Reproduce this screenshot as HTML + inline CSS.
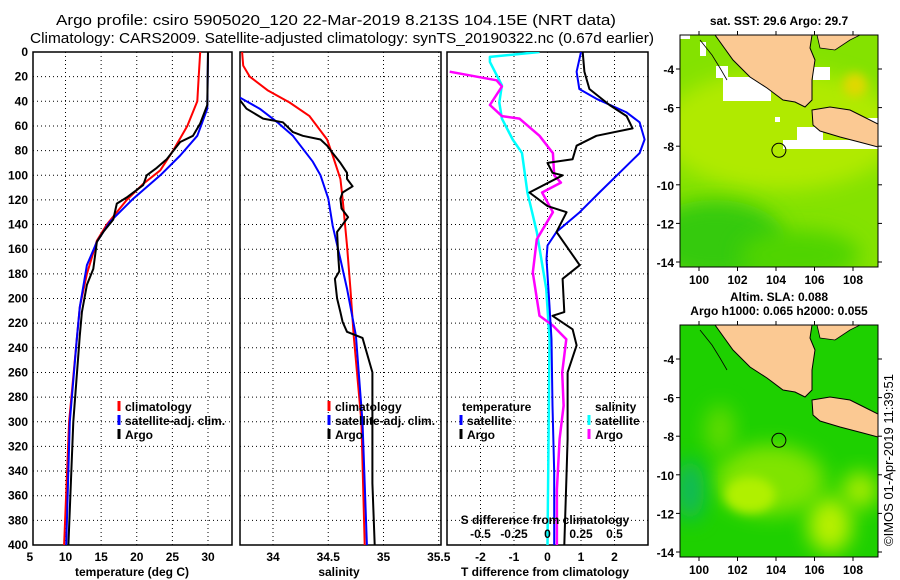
<!DOCTYPE html>
<html><head><meta charset="utf-8"><style>
html,body{margin:0;padding:0;background:#fff}
svg{display:block;font-family:"Liberation Sans",sans-serif}
.t{font-size:12px;font-weight:bold;fill:#000}
</style></head><body>
<svg id="fig" width="900" height="580" viewBox="0 0 900 580" xmlns="http://www.w3.org/2000/svg">
<defs>
<clipPath id="c1"><rect x="33" y="52" width="199" height="493"/></clipPath>
<clipPath id="c2"><rect x="240" y="52" width="201" height="493"/></clipPath>
<clipPath id="c3"><rect x="447" y="52" width="201" height="493"/></clipPath>
<clipPath id="m1"><rect x="680" y="35" width="198" height="232"/></clipPath>
<clipPath id="m2"><rect x="680" y="325" width="198" height="232"/></clipPath>
<filter id="bl" x="-50%" y="-50%" width="200%" height="200%"><feGaussianBlur stdDeviation="10"/></filter>
<filter id="bl2" x="-50%" y="-50%" width="200%" height="200%"><feGaussianBlur stdDeviation="5"/></filter>
</defs>
<text x="336" y="25" text-anchor="middle" font-size="15" textLength="560" lengthAdjust="spacingAndGlyphs">Argo profile: csiro 5905020_120 22-Mar-2019 8.213S 104.15E (NRT data)</text>
<text x="342" y="43" text-anchor="middle" font-size="15" textLength="624" lengthAdjust="spacingAndGlyphs">Climatology: CARS2009. Satellite-adjusted climatology: synTS_20190322.nc (0.67d earlier)</text>
<g id="plots"></g>
<g id="maps"></g>
<text transform="translate(893,460) rotate(-90)" text-anchor="middle" font-size="13">©IMOS 01-Apr-2019 11:39:51</text>
</svg>
<script>
// ---- data ----
const depthTicks = [0,20,40,60,80,100,120,140,160,180,200,220,240,260,280,300,320,340,360,380,400];
const tempTicks = [5,10,15,20,25,30];
const salTicks = [34,34.5,35,35.5];
const tdiffTicks = [-2,-1,0,1,2];
const sdiffTicks = [-0.5,-0.25,0,0.25,0.5];
const sdiffTickLabels = ['-0.5','-0.25','0','0.25','0.5'];

const tClimDepth = [0,20,40,60,80,96,107,120,140,153,180,207,232,300,400];
const tClimVal   = [28.9,28.7,28.5,27.1,25.1,23.3,20.9,18.6,15.8,14.4,13.0,12.0,11.6,10.5,9.8];
const tSatDepth  = [0,46,68,84,100,119,138,154,173,207,232,300,400];
const tSatVal    = [30.0,29.9,28.5,26.1,23.3,19.5,16.2,14.4,13.0,12.0,11.6,10.6,10.1];
const tArgoDepth = [0,43,58,68,73,87,94,100,108,118,123,136,146,154,176,189,211,230,300,400];
const tArgoVal   = [30.0,29.9,28.9,27.9,26.1,24.2,22.8,21.4,20.9,18.6,17.2,16.7,15.3,14.4,13.9,13.0,12.3,12.0,11.1,10.4];

const sClimDepth = [0,11,20,31,41,52,71,84,103,119,157,192,230,300,400];
const sClimVal   = [33.72,33.73,33.79,33.95,34.15,34.33,34.49,34.54,34.61,34.63,34.67,34.70,34.73,34.80,34.83];
const sSatDepth  = [37,46,57,68,89,100,119,141,168,192,230,300,400];
const sSatVal    = [33.70,33.88,34.04,34.18,34.36,34.43,34.50,34.54,34.61,34.67,34.75,34.81,34.85];
const sArgoDepth = [39,46,54,57,65,68,71,76,82,90,98,103,109,114,119,127,134,146,165,178,184,200,211,219,227,232,260,300,350,400];
const sArgoVal   = [33.70,33.76,33.91,34.09,34.18,34.27,34.43,34.49,34.54,34.61,34.67,34.67,34.72,34.63,34.61,34.62,34.68,34.58,34.59,34.60,34.56,34.58,34.61,34.63,34.67,34.81,34.90,34.90,34.90,34.92];

const dtSatDepth = [0,16,30,38,49,57,71,82,98,114,130,146,157,168,206,233,287,341,400];
const dtSatVal   = [1.0,0.87,0.95,1.46,2.36,2.75,2.9,2.75,2.15,1.55,0.96,0.27,0.0,-0.03,0.06,0.12,0.15,0.2,0.2];
const dtArgoDepth = [0,16,30,43,52,62,68,76,87,90,98,100,114,125,130,146,173,184,211,214,225,238,260,314,341,400];
const dtArgoVal   = [1.05,1.1,1.25,1.85,2.36,2.54,1.46,0.87,0.75,0.0,0.15,0.45,-0.54,0.0,0.57,0.27,0.96,0.45,0.5,0.15,0.75,0.87,0.6,0.6,0.57,0.5];
const dsSatDepth = [0,4,8,27,41,54,71,82,114,146,192,233,400];
const dsSatVal   = [-0.06,-0.43,-0.43,-0.34,-0.36,-0.34,-0.26,-0.19,-0.15,-0.08,-0.01,0.015,0.0];
const dsArgoDepth = [16,23,28,43,52,54,68,82,100,106,114,130,152,179,214,222,233,260,287,314,355,400];
const dsArgoVal   = [-0.73,-0.38,-0.34,-0.43,-0.34,-0.21,-0.06,0.04,0.05,0.1,-0.04,0.04,-0.08,-0.11,-0.06,0.04,0.14,0.11,0.12,0.09,0.07,0.07];

const NS='http://www.w3.org/2000/svg';
function mk(tag, attrs, parent){const e=document.createElementNS(NS,tag);for(const k in attrs)e.setAttribute(k,attrs[k]);parent.appendChild(e);return e;}
const Y0=52, Y1=545;
const yS = d => Y0 + (d/400)*(Y1-Y0);
const lin = (d0,d1,r0,r1) => v => r0 + (v-d0)/(d1-d0)*(r1-r0);
const xT = lin(10,30,65.5,208);
const xS = lin(34,35,273,383.5);
const xDT = lin(-3,3,447,648);
const xDS = lin(-0.75,0.75,447,648);
const plots=document.getElementById('plots');

function panel(x0,x1,xs,ticks,clip,name){
  const g=mk('g',{},plots);
  
  
  depthTicks.forEach(d=>{ if(d>0&&d<400){const l=mk('line',{x1:x0,x2:x1,y1:yS(d),y2:yS(d),stroke:'#000','stroke-width':1,'stroke-dasharray':'1 3'},g);
    
    }});
  ticks.forEach(v=>{const x=xs(v); if(x>x0+1&&x<x1-1){const l=mk('line',{x1:x,x2:x,y1:Y0,y2:Y1,stroke:'#000','stroke-width':1,'stroke-dasharray':'1 3'},g);
    
    }});
  const r=mk('rect',{x:x0,y:Y0,width:x1-x0,height:Y1-Y0,fill:'none',stroke:'#000','stroke-width':1.5},g);
  
  
  return g;
}
function series(g,depths,vals,xs,color,w,clip,name){
  const pts=depths.map((d,i)=>xs(vals[i]).toFixed(1)+','+yS(d).toFixed(1)).join(' ');
  const p=mk('polyline',{points:pts,fill:'none',stroke:color,'stroke-width':w,'clip-path':'url(#'+clip+')','stroke-linejoin':'round'},g);
  
  
}
function txt(g,x,y,s,anchor,name,color){
  const t=mk('text',{x:x,y:y,'text-anchor':anchor||'middle',class:'t'},g);
  if(color) t.setAttribute('fill',color);
  t.textContent=s;
  
  
  return t;
}
function legMark(g,x,y,color){
  const l=mk('line',{x1:x,x2:x,y1:y-10,y2:y,stroke:color,'stroke-width':3},g);
  
  
}

// panel 1
const g1=panel(33,232,xT,tempTicks,'c1','temperature-panel');
series(g1,tClimDepth,tClimVal,xT,'#f00',2,'c1','temp-climatology-line');
series(g1,tSatDepth,tSatVal,xT,'#00f',2,'c1','temp-satellite-line');
series(g1,tArgoDepth,tArgoVal,xT,'#000',2,'c1','temp-argo-line');
depthTicks.forEach(d=>txt(g1,28,yS(d)+4,String(d),'end','depth-tick-label'));
tempTicks.forEach(v=>txt(g1,xT(v),561,String(v),'middle','temp-tick-label'));
txt(g1,132,576,'temperature (deg C)','middle','x-axis-title-temperature');
[['climatology','#f00'],['satellite-adj. clim.','#00f'],['Argo','#000']].forEach((e,i)=>{
  legMark(g1,119,411+i*14,e[1]); txt(g1,125,411+i*14,e[0],'start','legend-entry');});

// panel 2
const g2=panel(240,441,xS,salTicks,'c2','salinity-panel');
series(g2,sClimDepth,sClimVal,xS,'#f00',2,'c2','sal-climatology-line');
series(g2,sSatDepth,sSatVal,xS,'#00f',2,'c2','sal-satellite-line');
series(g2,sArgoDepth,sArgoVal,xS,'#000',2,'c2','sal-argo-line');
salTicks.forEach(v=>txt(g2,xS(v),561,String(v),'middle','sal-tick-label'));
txt(g2,339,576,'salinity','middle','x-axis-title-salinity');
[['climatology','#f00'],['satellite-adj. clim.','#00f'],['Argo','#000']].forEach((e,i)=>{
  legMark(g2,329,411+i*14,e[1]); txt(g2,335,411+i*14,e[0],'start','legend-entry');});

// panel 3
const g3=panel(447,648,xDT,tdiffTicks,'c3','difference-panel');
series(g3,dsSatDepth,dsSatVal,xDS,'#0ff',2.5,'c3','sdiff-satellite-line');
series(g3,dsArgoDepth,dsArgoVal,xDS,'#f0f',2.5,'c3','sdiff-argo-line');
series(g3,dtSatDepth,dtSatVal,xDT,'#00f',2,'c3','tdiff-satellite-line');
series(g3,dtArgoDepth,dtArgoVal,xDT,'#000',2,'c3','tdiff-argo-line');
tdiffTicks.forEach(v=>txt(g3,xDT(v),561,String(v),'middle','tdiff-tick-label'));
sdiffTicks.forEach((v,i)=>txt(g3,xDS(v),538,sdiffTickLabels[i],'middle','sdiff-tick-label'));
txt(g3,545,524,'S difference from climatology','middle','sdiff-axis-title');
txt(g3,545,576,'T difference from climatology','middle','x-axis-title-tdiff');
txt(g3,462,411,'temperature','start','legend-title-temperature');
legMark(g3,461,425,'#00f'); txt(g3,467,425,'satellite','start','legend-entry');
legMark(g3,461,439,'#000'); txt(g3,467,439,'Argo','start','legend-entry');
txt(g3,595,411,'salinity','start','legend-title-salinity');
legMark(g3,589,425,'#0ff'); txt(g3,595,425,'satellite','start','legend-entry');
legMark(g3,589,439,'#f0f'); txt(g3,595,439,'Argo','start','legend-entry');

// ---- maps ----
const lonTicks=[100,102,104,106,108];
const latTicks=[-4,-6,-8,-10,-12,-14];
const maps=document.getElementById('maps');
const xLon = lin(100,108,699,853);
function drawMap(oy,clip,name,title1,title2,kind){
  const g=mk('g',{},maps);
  
  
  const yLat = lin(-4,-14,69+oy,262+oy);
  const inner=mk('g',{'clip-path':'url(#'+clip+')'},g);
  if(kind==='sst'){
    mk('rect',{x:680,y:35+oy,width:198,height:232,fill:'#84e200'},inner);
    mk('ellipse',{cx:780,cy:130+oy,rx:120,ry:60,fill:'#b0ea00',filter:'url(#bl)'},inner);
    mk('ellipse',{cx:715,cy:240+oy,rx:70,ry:40,fill:'#34ca10',filter:'url(#bl)'},inner);
    mk('ellipse',{cx:800,cy:255+oy,rx:60,ry:25,fill:'#50d400',filter:'url(#bl)'},inner);
    mk('ellipse',{cx:855,cy:85+oy,rx:12,ry:12,fill:'#e0d800',filter:'url(#bl2)'},inner);
    [[680,35,10,4],[700,42,6,14],[716,66,12,12],[723,77,48,24],[813,67,17,13],[797,127,26,13],[783,140,95,9],[860,118,18,6],[775,117,5,5]].forEach(r=>{
      mk('rect',{x:r[0],y:r[1]+oy,width:r[2],height:r[3],fill:'#fff'},inner);});
  } else {
    mk('rect',{x:680,y:35+oy,width:198,height:232,fill:'#1ed000'},inner);
    mk('ellipse',{cx:770,cy:190+oy,rx:55,ry:35,fill:'#80e400',filter:'url(#bl)'},inner);
    mk('ellipse',{cx:750,cy:205+oy,rx:25,ry:18,fill:'#b0f000',filter:'url(#bl2)'},inner);
    mk('ellipse',{cx:830,cy:235+oy,rx:22,ry:28,fill:'#b8f000',filter:'url(#bl)'},inner);
    mk('ellipse',{cx:860,cy:200+oy,rx:18,ry:18,fill:'#a8ec00',filter:'url(#bl)'},inner);
    mk('ellipse',{cx:720,cy:140+oy,rx:15,ry:25,fill:'#60dc00',filter:'url(#bl)'},inner);
    mk('ellipse',{cx:690,cy:200+oy,rx:14,ry:30,fill:'#10b860',filter:'url(#bl)'},inner);
  }
  const land=[[715,35],[733,60],[750,77],[767,88],[783,100],[795,102],[805,107],[812,100],[812,80],[815,60],[810,48],[812,35]];
  const java=[[812,110],[830,107],[850,110],[862,116],[878,124],[878,147],[863,143],[840,137],[820,131],[813,125]];
  const k=mk('polygon',{points:land.map(p=>p[0]+','+(p[1]+oy)).join(' '),fill:'#fbc993',stroke:'#000','stroke-width':1},inner);
  
  
  const j=mk('polygon',{points:java.map(p=>p[0]+','+(p[1]+oy)).join(' '),fill:'#fbc993',stroke:'#000','stroke-width':1},inner);
  
  
  mk('polygon',{points:`817,35 820,48 835,50 850,40 860,35`.split(' ').map(s=>{const a=s.split(',');return a[0]+','+(+a[1]+oy);}).join(' '),fill:'#fbc993',stroke:'#000','stroke-width':0.8},inner);
  mk('polyline',{points:`700,40 712,55 720,68 727,80`.split(' ').map(s=>{const a=s.split(',');return a[0]+','+(+a[1]+oy);}).join(' '),fill:'none',stroke:'#000','stroke-width':0.8},inner);
  const c=mk('circle',{cx:xLon(104.15),cy:yLat(-8.213),r:7,fill:'none',stroke:'#000','stroke-width':1},g);
  
  
  const fr=mk('rect',{x:680,y:35+oy,width:198,height:232,fill:'none',stroke:'#000','stroke-width':1},g);
  
  
  lonTicks.forEach(v=>{const x=xLon(v);
    mk('line',{x1:x,x2:x,y1:35+oy,y2:31+oy,stroke:'#000'},g);
    mk('line',{x1:x,x2:x,y1:267+oy,y2:271+oy,stroke:'#000'},g);
    txt(g,x,284+oy,String(v),'middle','longitude-tick-label');});
  latTicks.forEach(v=>{const y=yLat(v);
    mk('line',{x1:676,x2:680,y1:y,y2:y,stroke:'#000'},g);
    mk('line',{x1:878,x2:882,y1:y,y2:y,stroke:'#000'},g);
    txt(g,674,y+5,String(v),'end','latitude-tick-label');});
  if(title2){txt(g,779,oy+11,title1,'middle','map-title');txt(g,779,oy+25,title2,'middle','map-subtitle');}
  else txt(g,779,oy+25,title1,'middle','map-title');
}
drawMap(0,'m1','sst-map','sat. SST: 29.6 Argo: 29.7',null,'sst');
drawMap(290,'m2','sla-map','Altim. SLA: 0.088','Argo h1000: 0.065 h2000: 0.055','sla');
</script>
</body></html>
